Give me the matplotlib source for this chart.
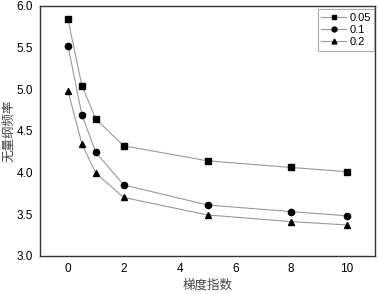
import matplotlib.pyplot as plt

# 梯度指数 vs 无量纲频率
x = [0, 0.5, 1, 2, 5, 8, 10]
labels = ['0.05', '0.1', '0.2']
y_005 = [5.84, 5.04, 4.64, 4.32, 4.14, 4.06, 4.01]
y_01 = [5.52, 4.69, 4.24, 3.85, 3.61, 3.53, 3.48]
y_02 = [4.98, 4.34, 3.99, 3.70, 3.49, 3.41, 3.37]
markers = ['s', 'o', '^']
xticks = [0, 2, 4, 6, 8, 10]
yticks = [3.0, 3.5, 4.0, 4.5, 5.0, 5.5, 6.0]

plt.rcParams['font.family'] = ['Liberation Sans', 'Noto Sans CJK SC', 'DejaVu Sans']

fig, ax = plt.subplots(figsize=(3.78, 2.94), dpi=100)
for ys, lab, m in zip([y_005, y_01, y_02], labels, markers):
    ax.plot(x, ys, color='#999999', linewidth=0.8, marker=m, markersize=4.5,
            markerfacecolor='black', markeredgecolor='black', label=lab)

ax.set_xlim(-1, 11)
ax.set_ylim(3.0, 6.0)
ax.set_xticks(xticks)
ax.set_yticks(yticks)
ax.set_yticklabels([f'{v:.1f}' for v in yticks])
ax.tick_params(length=0, labelsize=8.5, pad=5)
for s in ax.spines.values():
    s.set_linewidth(1.0)
    s.set_color('#333333')

ax.set_xlabel('梯度指数', fontsize=9, color='#444444', family=['Noto Sans CJK SC'], labelpad=3)
ax.set_ylabel('无量纲频率', fontsize=9, color='#444444', family=['Noto Sans CJK SC'], labelpad=1)

leg = ax.legend(loc='upper right', bbox_to_anchor=(1.0, 0.99), fontsize=8,
                frameon=True, fancybox=False, borderaxespad=0.1, handlelength=2.2,
                borderpad=0.3, labelspacing=0.2, handletextpad=0.3)
leg.get_frame().set_edgecolor('#999999')
leg.get_frame().set_linewidth(0.8)
for h in leg.legend_handles:
    h.set_markersize(3.5)

plt.subplots_adjust(left=0.106, right=0.992, top=0.98, bottom=0.13)
plt.savefig('out.png', dpi=100)
